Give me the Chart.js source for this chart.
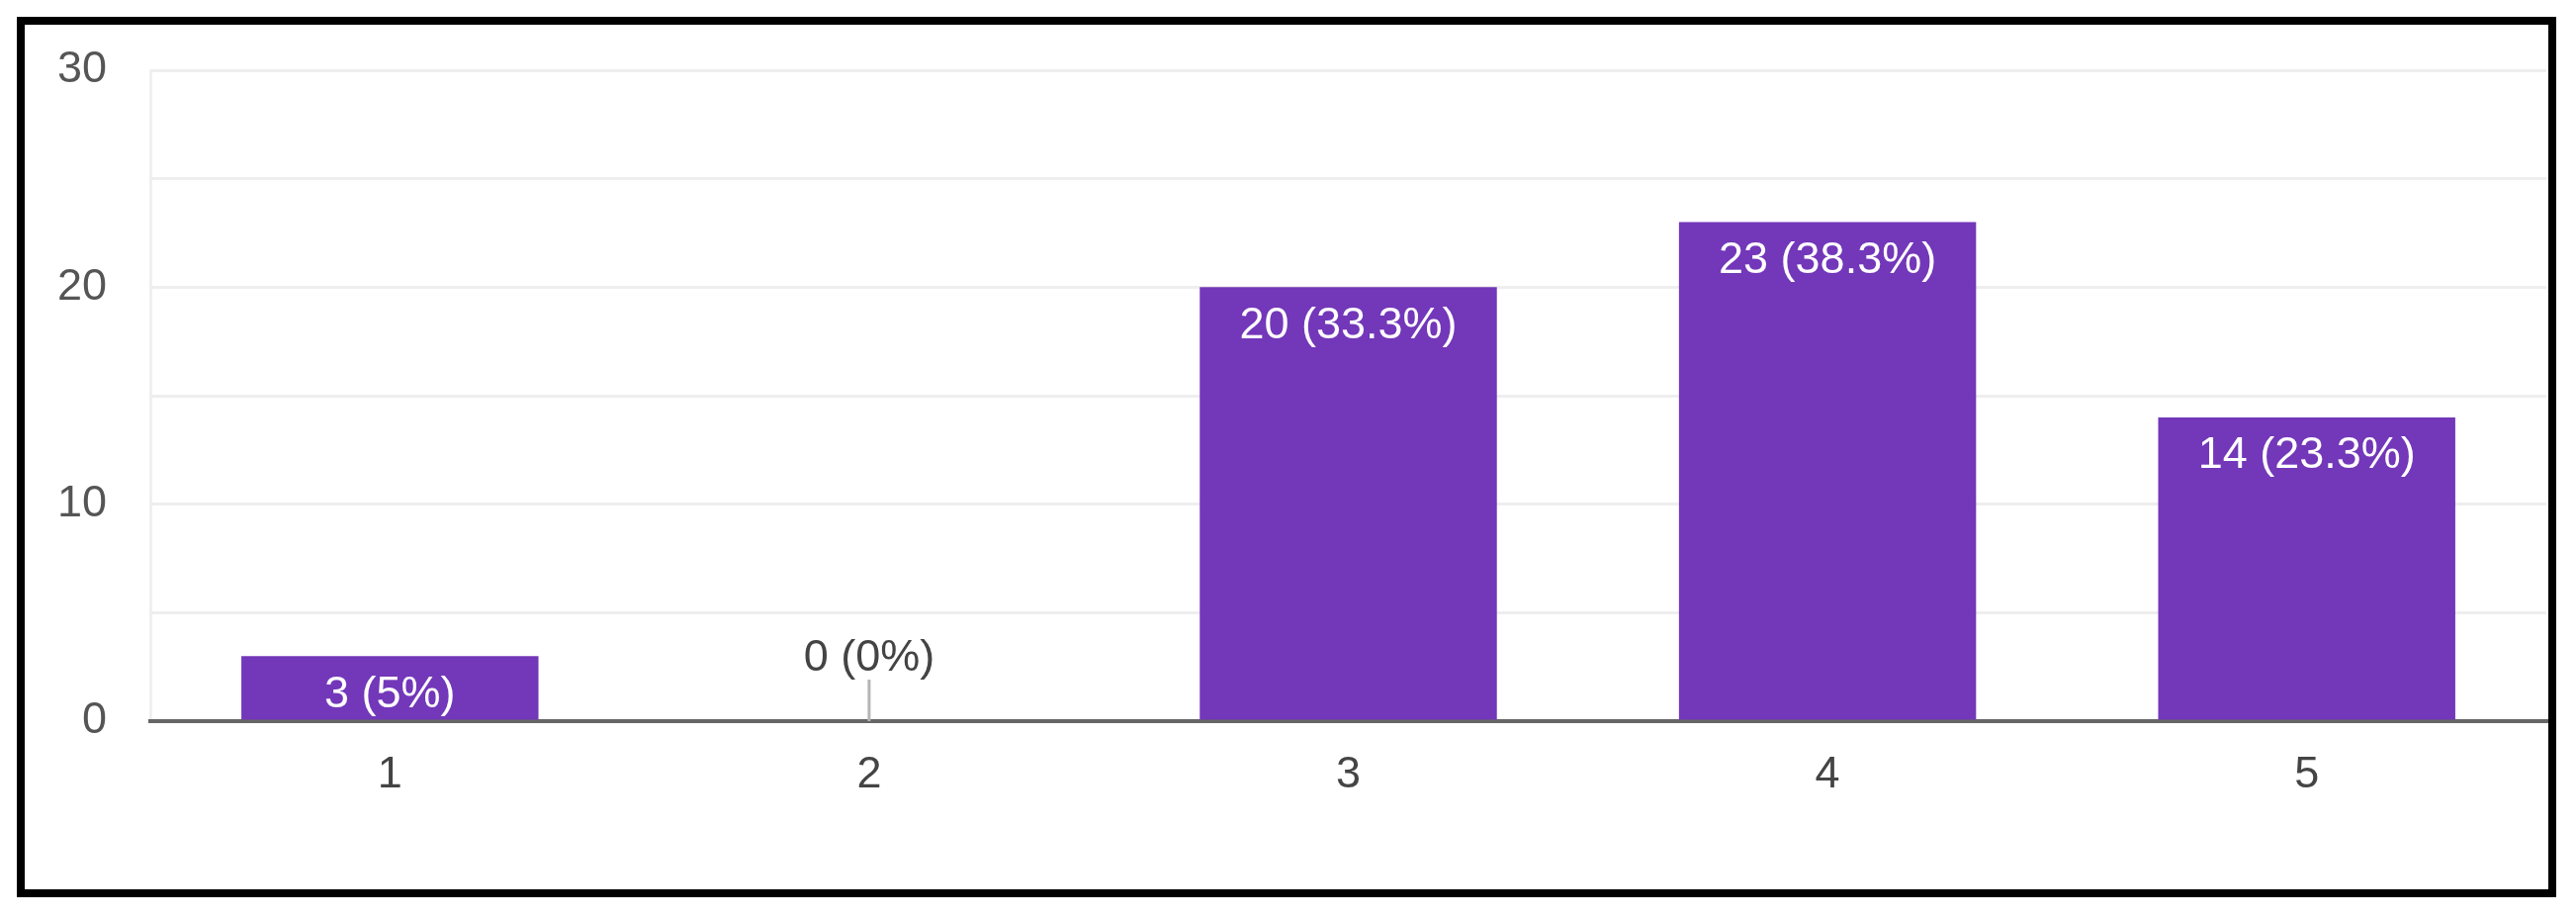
<!DOCTYPE html>
<html>
<head>
<meta charset="utf-8">
<script src="https://cdn.jsdelivr.net/npm/chart.js@4/dist/chart.umd.min.js"></script>
<style>
  html, body { margin: 0; padding: 0; background: #fff; overflow: hidden; }
  #frame {
    position: absolute; left: 17px; top: 17px;
    width: 2552px; height: 874px;
    border: 8px solid #000;
  }
  #bar-chart { position: absolute; left: 0; top: 0; }
</style>
</head>
<body>
<div id="frame"></div>
<canvas id="bar-chart" width="2605" height="928"></canvas>
<script>
const categories = ["1", "2", "3", "4", "5"];
const counts = [3, 0, 20, 23, 14];
const percents = ["5%", "0%", "33.3%", "38.3%", "23.3%"];
const yTicks = [0, 10, 20, 30];

const barColor = "#7337b9";
const textFont = { family: "'Liberation Sans', Arial, sans-serif", size: 45 };

// labels like "20 (33.3%)" inside the top of each bar, zero bars get a label above with a small stem
const barLabels = {
  id: "barLabels",
  afterDatasetsDraw(chart) {
    const ctx = chart.ctx;
    const meta = chart.getDatasetMeta(0);
    ctx.save();
    ctx.font = textFont.size + "px " + textFont.family;
    ctx.textAlign = "center";
    ctx.textBaseline = "middle";
    meta.data.forEach(function (bar, i) {
      const text = counts[i] + " (" + percents[i] + ")";
      if (counts[i] === 0) {
        ctx.strokeStyle = "#b5b5b5";
        ctx.lineWidth = 3;
        ctx.beginPath();
        ctx.moveTo(bar.x, bar.base - 42);
        ctx.lineTo(bar.x, bar.base);
        ctx.stroke();
        ctx.fillStyle = "#444";
        ctx.fillText(text, bar.x, bar.base - 63);
      } else {
        ctx.fillStyle = "#fff";
        ctx.fillText(text, bar.x, bar.y + 39);
      }
    });
    ctx.restore();
  },
};

const ctx = document.getElementById("bar-chart").getContext("2d");
new Chart(ctx, {
  type: "bar",
  data: {
    labels: categories,
    datasets: [
      {
        data: counts,
        backgroundColor: barColor,
        borderWidth: 0,
        barPercentage: 0.62,
        categoryPercentage: 1,
      },
    ],
  },
  options: {
    responsive: false,
    animation: false,
    devicePixelRatio: 1,
    layout: { padding: { left: 0, right: 30, top: 70, bottom: 0 } },
    plugins: {
      legend: { display: false },
      tooltip: { enabled: false },
    },
    scales: {
      x: {
        grid: {
          offset: true,
          drawTicks: false,
          lineWidth: 3,
          color: function (c) {
            return c.index === 0 || c.index === categories.length ? "#f0f0f0" : "rgba(0,0,0,0)";
          },
        },
        border: { display: true, color: "#666", width: 4 },
        ticks: { color: "#444", font: textFont, padding: 28 },
        afterFit: function (scale) { scale.height = 199; },
      },
      y: {
        min: yTicks[0],
        max: yTicks[yTicks.length - 1],
        grid: { color: "#eeeeee", lineWidth: 3, drawTicks: false },
        border: { display: false },
        ticks: {
          stepSize: 5,
          color: "#555",
          font: textFont,
          padding: 44,
          callback: function (v) { return yTicks.includes(v) ? String(v) : ""; },
        },
        afterFit: function (scale) { scale.width = 152; },
      },
    },
  },
  plugins: [barLabels],
});
</script>
</body>
</html>
